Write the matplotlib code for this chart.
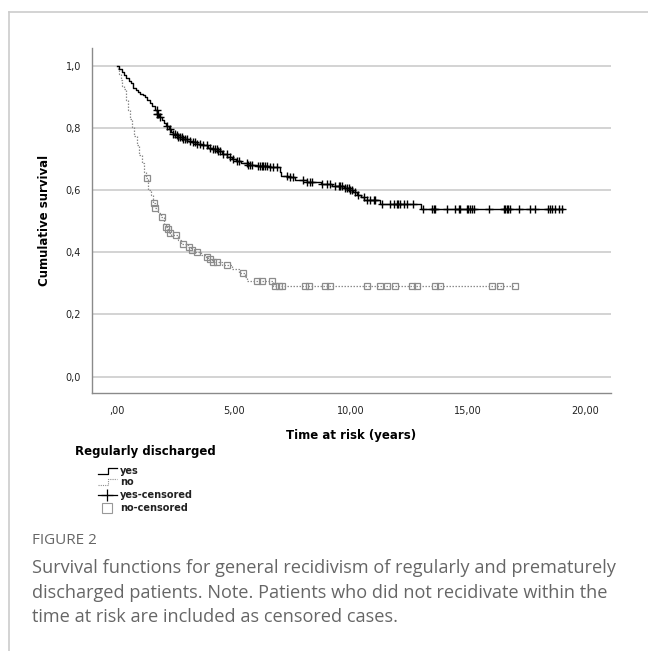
"""
Kaplan-Meier survival curves: general recidivism, regularly vs prematurely discharged.
"""

import numpy as np
import matplotlib
matplotlib.use('Agg')
import matplotlib.pyplot as plt
from matplotlib.lines import Line2D

# Colours
BLACK = '#000000'
GREY = '#8c8c8c'
GRID = '#d0d0d0'
SPINE = '#8a8a8a'
FRAME = '#cccccc'
CAPTION = '#666666'

W, H = 648, 651

# yes: step times (years) and survival level after each step
yes_t = [0.0, 0.1, 0.2, 0.3, 0.4, 0.5, 0.6, 0.7, 0.8, 0.9, 1.0, 1.1, 1.2, 1.3, 1.4,
         1.5, 1.6, 1.7, 1.8, 1.9, 2.0, 2.1, 2.2, 2.3, 2.4, 2.5, 2.6, 2.8, 3.0, 3.2,
         3.4, 3.6, 3.9, 4.1, 4.3, 4.5, 4.7, 4.9, 5.1, 5.3, 5.6, 6.0, 6.5, 6.97, 7.0,
         7.3, 7.6, 8.1, 8.7, 9.2, 9.7, 9.9, 10.1, 10.25, 10.4, 10.55, 11.25, 12.97]
yes_s = [1.0, 0.99, 0.98, 0.97, 0.96, 0.952, 0.944, 0.93, 0.922, 0.916, 0.911,
         0.906, 0.9, 0.892, 0.882, 0.87, 0.858, 0.847, 0.836, 0.826, 0.815, 0.806,
         0.797, 0.789, 0.782, 0.777, 0.772, 0.765, 0.76, 0.755, 0.75, 0.745, 0.737,
         0.732, 0.725, 0.716, 0.708, 0.7, 0.694, 0.688, 0.682, 0.678, 0.674, 0.66,
         0.646, 0.641, 0.634, 0.626, 0.619, 0.613, 0.607, 0.6, 0.593, 0.585, 0.577,
         0.568, 0.555, 0.539]
yes_end = 19.06
yes_cens = [1.69, 1.72, 1.77, 1.84, 2.12, 2.26, 2.41, 2.48, 2.55, 2.62, 2.69, 2.76,
            2.83, 2.9, 2.98, 3.12, 3.26, 3.33, 3.4, 3.55, 3.69, 3.83, 3.97, 4.12,
            4.19, 4.26, 4.33, 4.4, 4.54, 4.69, 4.83, 4.97, 5.12, 5.19, 5.54, 5.61,
            5.68, 5.75, 6.04, 6.11, 6.18, 6.25, 6.32, 6.39, 6.54, 6.68, 6.82, 7.25,
            7.39, 7.53, 7.96, 8.11, 8.25, 8.32, 8.75, 8.96, 9.1, 9.32, 9.46, 9.53,
            9.6, 9.75, 9.82, 9.89, 9.96, 10.03, 10.17, 10.31, 10.53, 10.67, 10.81,
            10.96, 11.03, 11.31, 11.67, 11.81, 11.95, 12.02, 12.09, 12.24, 12.38,
            12.66, 13.09, 13.45, 13.52, 13.59, 14.09, 14.44, 14.59, 14.66, 14.94,
            15.01, 15.09, 15.16, 15.23, 15.87, 16.51, 16.58, 16.65, 16.72, 16.79,
            17.15, 17.65, 17.86, 18.43, 18.5, 18.58, 18.72, 18.86, 19.0]

# no: step times and survival level
no_t = [0.0, 0.05, 0.1, 0.15, 0.2, 0.3, 0.4, 0.48, 0.55, 0.63, 0.72, 0.84, 0.95,
        1.05, 1.15, 1.25, 1.32, 1.45, 1.55, 1.61, 1.75, 1.88, 2.02, 2.08, 2.14,
        2.22, 2.3, 2.6, 2.75, 3.05, 3.15, 3.3, 3.6, 3.8, 3.9, 4.05, 4.5, 4.9, 5.2,
        5.45, 5.54, 6.68]
no_s = [1.0, 0.99, 0.975, 0.955, 0.935, 0.925, 0.89, 0.858, 0.83, 0.805, 0.775,
        0.746, 0.715, 0.688, 0.66, 0.64, 0.6, 0.585, 0.558, 0.542, 0.528, 0.513,
        0.49, 0.483, 0.474, 0.462, 0.455, 0.44, 0.428, 0.417, 0.407, 0.4, 0.391,
        0.386, 0.377, 0.368, 0.358, 0.346, 0.335, 0.32, 0.308, 0.292]
no_end = 17.01
no_cens = [1.27, 1.59, 1.64, 1.91, 2.09, 2.17, 2.26, 2.52, 2.83, 3.09, 3.19, 3.43,
           3.83, 3.97, 4.12, 4.26, 4.69, 5.37, 5.97, 6.18, 6.61, 6.75, 6.9, 7.04,
           8.03, 8.18, 8.89, 9.1, 10.67, 11.24, 11.52, 11.88, 12.59, 12.81, 13.59,
           13.8, 16.01, 16.37, 17.01]

x_ticks = [0, 5, 10, 15, 20]
x_labels = [',00', '5,00', '10,00', '15,00', '20,00']
y_ticks = [0.0, 0.2, 0.4, 0.6, 0.8, 1.0]
y_labels = ['0,0', '0,2', '0,4', '0,6', '0,8', '1,0']

legend_title = 'Regularly discharged'
legend_labels = ['yes', 'no', 'yes-censored', 'no-censored']

fig_label = 'FIGURE 2'
caption = ['Survival functions for general recidivism of regularly and prematurely',
           'discharged patients. Note. Patients who did not recidivate within the',
           'time at risk are included as censored cases.']


def px(x, y):
    # pixel (from top-left) -> figure fraction
    return x / W, 1 - y / H


def level_at(times, levels, c):
    i = np.searchsorted(times, c, side='right') - 1
    return np.asarray(levels)[i]


fig = plt.figure(figsize=(W / 100, H / 100), dpi=100, facecolor='white')

# page frame
fig.add_artist(Line2D([9 / W, 1], [1 - 12 / H] * 2, color=FRAME, lw=1.2,
                      transform=fig.transFigure))
fig.add_artist(Line2D([9 / W] * 2, [0, 1 - 12 / H], color=FRAME, lw=1.2,
                      transform=fig.transFigure))

ax = fig.add_axes([92 / W, 1 - 393 / H, (611 - 92) / W, (393 - 48) / H])
ax.set_xlim(-1.07, 21.1)
ax.set_ylim(-0.053, 1.058)
for sp in ['top', 'right']:
    ax.spines[sp].set_visible(False)
for sp in ['left', 'bottom']:
    ax.spines[sp].set_color(SPINE)
    ax.spines[sp].set_linewidth(1.0)
ax.set_yticks(y_ticks)
ax.set_yticklabels(y_labels)
ax.set_xticks(x_ticks)
ax.set_xticklabels(x_labels)
ax.tick_params(length=0, labelsize=7, colors='#222222', pad=8)
ax.tick_params(axis='x', pad=9)
for yv in y_ticks:
    ax.axhline(yv, color=GRID, lw=1.3, zorder=0)

# no group
nt = np.append(no_t, no_end)
ns = np.append(no_s, no_s[-1])
ax.step(nt, ns, where='post', color=GREY, lw=0.9, ls=(0, (1.2, 1.2)), zorder=2)
ax.plot(no_cens, level_at(no_t, no_s, no_cens), ls='none', marker='s', ms=5,
        mfc='none', mec=GREY, mew=0.9, zorder=3)

# yes group
yt = np.append(yes_t, yes_end)
ys = np.append(yes_s, yes_s[-1])
ax.step(yt, ys, where='post', color=BLACK, lw=1.0, zorder=4)
ax.plot(yes_cens, level_at(yes_t, yes_s, yes_cens), ls='none', marker='+', ms=6,
        mec=BLACK, mew=1.0, zorder=5)

ax.set_ylabel('Cumulative survival', fontsize=8.5, fontweight='bold', labelpad=10)
ax.set_xlabel('Time at risk (years)', fontsize=8.5, fontweight='bold', labelpad=10)

# legend, drawn by hand like the SPSS output
fig.text(*px(75, 452), legend_title, fontsize=8.5, fontweight='bold',
         va='center', ha='left')
rows = [470.7, 481.7, 495, 507.7]
ix0, ix1 = 98, 117
r = rows[0]
fig.add_artist(Line2D([ix0 / W, 108 / W, 108 / W, ix1 / W],
                      [1 - (r + 3) / H, 1 - (r + 3) / H, 1 - (r - 3) / H, 1 - (r - 3) / H],
                      color=BLACK, lw=0.9, transform=fig.transFigure))
r = rows[1]
fig.add_artist(Line2D([ix0 / W, 108 / W, 108 / W, ix1 / W],
                      [1 - (r + 3) / H, 1 - (r + 3) / H, 1 - (r - 3) / H, 1 - (r - 3) / H],
                      color=GREY, lw=0.8, ls=(0, (1, 1)), transform=fig.transFigure))
r = rows[2]
fig.add_artist(Line2D([ix0 / W, ix1 / W], [1 - r / H] * 2, color=BLACK, lw=0.9,
                      transform=fig.transFigure))
fig.add_artist(Line2D([(ix0 + ix1) / 2 / W], [1 - r / H], marker='+', ms=9,
                      mec=BLACK, mew=0.9, transform=fig.transFigure))
r = rows[3]
fig.add_artist(Line2D([(ix0 + ix1) / 2 / W], [1 - r / H], marker='s', ms=7,
                      mfc='none', mec='#999999', mew=0.8, transform=fig.transFigure))
for r, lab in zip(rows, legend_labels):
    fig.text(*px(120, r), lab, fontsize=7, fontweight='bold', va='center',
             ha='left', color='#222222')

# caption
fig.text(*px(32, 541), fig_label, fontsize=11, color=CAPTION, va='center',
         ha='left', family='Open Sans')
for i, line in enumerate(caption):
    fig.text(*px(32, 568 + i * 24.5), line, fontsize=13.1, color=CAPTION,
             va='center', ha='left', family='Open Sans')

plt.savefig('out.png', dpi=100, facecolor='white')
plt.close()
